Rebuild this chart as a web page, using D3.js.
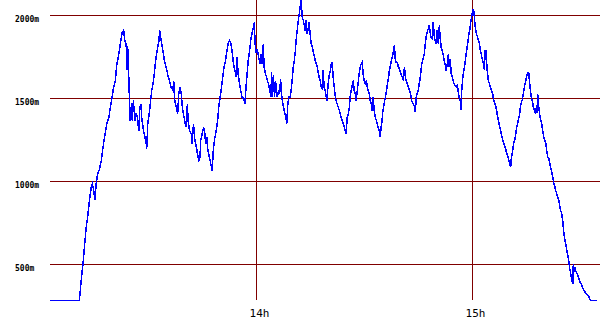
<!DOCTYPE html>
<html>
<head>
<meta charset="utf-8">
<script src="https://cdn.jsdelivr.net/npm/d3@7"></script>
<style>
  html, body { margin: 0; padding: 0; background: #fff; }
  svg { display: block; }
</style>
</head>
<body>
<svg id="chart" width="600" height="330"></svg>
<script>
// Elapsed minutes since 13:00
const minutes = [
  2.5, 10.8, 11.3, 11.8, 12.2, 12.7, 13.1, 13.6, 14.1, 14.4, 14.7, 15.1, 15.5, 15.9, 16.4, 16.9, 17.3, 17.8, 18.4, 19.0,
  19.4, 19.9, 20.3, 20.8, 21.2, 21.6, 21.9, 22.3, 22.7, 23.1, 23.4, 23.8, 24.0, 24.2, 24.4, 24.7, 24.9, 25.3, 25.5, 25.8,
  26.0, 26.3, 26.6, 26.9, 27.3, 27.6, 27.9, 28.1, 28.6, 29.0, 29.4, 29.5, 29.8, 30.2, 30.6, 30.9, 31.4, 31.8, 32.1, 32.5,
  32.9, 33.1, 33.5, 34.0, 34.4, 34.9, 35.4, 35.8, 36.3, 36.8, 37.0, 37.3, 37.7, 38.1, 38.4, 38.8, 39.1, 39.4, 39.7, 40.2,
  40.5, 40.8, 41.0, 41.4, 41.9, 42.1, 42.5, 42.9, 43.3, 43.6, 44.0, 44.3, 44.5, 44.9, 45.3, 45.6, 45.9, 46.2, 46.5, 46.9,
  47.3, 47.7, 48.0, 48.3, 48.8, 49.2, 49.5, 49.9, 50.3, 50.6, 51.0, 51.4, 51.8, 52.1, 52.5, 52.9, 53.3, 53.6, 54.0, 54.4,
  54.6, 54.9, 55.3, 55.6, 56.0, 56.4, 56.8, 56.9, 57.3, 57.7, 58.1, 58.4, 58.8, 59.2, 59.4, 59.6, 59.9, 60.3, 60.6, 61.0,
  61.3, 61.6, 61.9, 62.1, 62.5, 62.9, 63.3, 63.6, 64.0, 64.2, 64.4, 64.7, 65.0, 65.3, 65.6, 65.8, 66.1, 66.4, 66.7, 66.9,
  67.2, 67.5, 67.9, 68.3, 68.4, 68.7, 69.0, 69.4, 69.6, 69.9, 70.2, 70.5, 70.8, 71.0, 71.3, 71.6, 71.9, 72.1, 72.4, 72.7,
  73.0, 73.3, 73.5, 73.8, 74.1, 74.4, 74.6, 74.9, 75.2, 75.5, 75.8, 76.0, 76.3, 76.6, 76.9, 77.1, 77.4, 77.7, 78.0, 78.3,
  78.5, 78.8, 79.1, 79.4, 79.6, 79.9, 80.2, 80.5, 80.8, 81.0, 81.3, 81.6, 81.9, 82.1, 82.4, 82.7, 83.0, 83.3, 83.5, 83.8,
  84.1, 84.4, 84.6, 84.9, 85.2, 85.5, 85.8, 86.0, 86.3, 86.6, 86.9, 87.1, 87.4, 87.7, 88.0, 88.3, 88.5, 88.8, 89.1, 89.4,
  89.6, 89.9, 90.2, 90.5, 90.8, 91.0, 91.3, 91.6, 91.9, 92.1, 92.4, 92.7, 93.0, 93.3, 93.5, 93.8, 94.1, 94.4, 94.6, 94.9,
  95.0, 95.3, 95.6, 95.8, 96.1, 96.4, 96.7, 96.9, 97.2, 97.5, 97.8, 98.1, 98.3, 98.6, 98.9, 99.2, 99.4, 99.7, 100.0, 100.3,
  100.6, 100.8, 101.1, 101.4, 101.7, 101.9, 102.2, 102.5, 102.8, 103.1, 103.3, 103.6, 103.9, 104.1, 104.4, 104.6, 104.9, 105.2, 105.5, 105.8,
  106.0, 106.3, 106.6, 106.9, 107.1, 107.4, 107.7, 108.0, 108.3, 108.5, 108.8, 109.1, 109.4, 109.6, 109.9, 110.2, 110.5, 110.8, 111.0, 111.3,
  111.6, 111.9, 112.1, 112.4, 112.7, 113.0, 113.3, 113.5, 113.8, 114.1, 114.4, 114.6, 114.9, 115.2, 115.5, 115.8, 116.0, 116.3, 116.6, 116.8,
  117.0, 117.3, 117.6, 117.9, 118.1, 118.4, 118.7, 119.0, 119.3, 119.5, 119.8, 120.1, 120.3, 120.6, 120.8, 121.1, 121.4, 121.7, 121.9, 122.2,
  122.5, 122.8, 123.1, 123.3, 123.5, 123.8, 124.0, 124.2, 124.4, 124.7, 125.0, 125.3, 125.6, 125.8, 126.1, 126.4, 126.7, 126.9, 127.2, 127.5,
  127.8, 128.1, 128.3, 128.6, 128.9, 129.2, 129.4, 129.7, 130.0, 130.3, 130.6, 130.8, 131.1, 131.4, 131.7, 131.9, 132.2, 132.5, 132.8, 133.1,
  133.3, 133.6, 133.9, 134.2, 134.4, 134.7, 135.0, 135.3, 135.6, 135.8, 136.1, 136.4, 136.7, 136.9, 137.2, 137.5, 137.8, 137.9, 138.1, 138.4,
  138.7, 139.0, 139.3, 139.5, 139.8, 140.1, 140.4, 140.6, 140.9, 141.2, 141.5, 141.8, 142.0, 142.3, 142.6, 142.9, 143.1, 143.4, 143.7, 144.0,
  144.3, 144.5, 144.8, 145.1, 145.4, 145.6, 145.9, 146.2, 146.5, 146.8, 147.0, 147.3, 147.6, 147.9, 148.0, 148.3, 148.5, 148.8, 149.1, 149.4,
  149.6, 149.9, 150.2, 150.5, 150.8, 151.0, 151.3, 151.6, 151.9, 152.1, 152.4, 152.7, 153.0, 154.6
];
// Altitude in metres
const altitude = [
  283, 283, 404, 504, 604, 725, 785, 886, 966, 986, 958, 886, 996, 1046, 1076, 1126, 1197, 1267, 1348, 1387,
  1448, 1508, 1568, 1608, 1709, 1749, 1789, 1849, 1899, 1910, 1849, 1830, 1669, 1819, 1709, 1508, 1367, 1470, 1367, 1488,
  1428, 1367, 1410, 1386, 1307, 1448, 1468, 1387, 1307, 1267, 1227, 1197, 1348, 1408, 1488, 1548, 1608, 1689, 1749, 1799,
  1849, 1910, 1849, 1789, 1729, 1689, 1639, 1608, 1568, 1548, 1608, 1488, 1448, 1408, 1528, 1568, 1530, 1448, 1408, 1348,
  1327, 1468, 1367, 1307, 1287, 1227, 1348, 1247, 1207, 1167, 1126, 1146, 1247, 1287, 1327, 1297, 1227, 1267, 1187, 1146,
  1107, 1066, 1187, 1247, 1307, 1367, 1448, 1508, 1568, 1628, 1689, 1729, 1789, 1830, 1849, 1830, 1769, 1709, 1669, 1628,
  1749, 1649, 1589, 1548, 1508, 1500, 1468, 1508, 1628, 1729, 1789, 1849, 1899, 1930, 1960, 1830, 1779, 1789, 1749, 1709,
  1769, 1709, 1830, 1689, 1649, 1619, 1589, 1560, 1508, 1658, 1508, 1639, 1508, 1608, 1528, 1508, 1548, 1528, 1619, 1528,
  1488, 1448, 1408, 1367, 1348, 1468, 1508, 1508, 1548, 1608, 1689, 1729, 1789, 1849, 1910, 1970, 2010, 2050, 2090, 1990,
  1970, 1940, 1910, 1970, 1890, 1930, 1960, 1890, 1830, 1809, 1779, 1759, 1729, 1709, 1689, 1658, 1628, 1608, 1568, 1558,
  1669, 1568, 1548, 1508, 1488, 1589, 1639, 1669, 1709, 1719, 1628, 1568, 1508, 1488, 1468, 1448, 1428, 1408, 1387, 1367,
  1348, 1327, 1307, 1287, 1387, 1408, 1448, 1508, 1548, 1578, 1608, 1548, 1530, 1488, 1548, 1608, 1649, 1689, 1709, 1719,
  1649, 1608, 1589, 1608, 1568, 1548, 1530, 1488, 1468, 1428, 1508, 1428, 1387, 1367, 1348, 1327, 1307, 1267, 1327, 1367,
  1408, 1448, 1488, 1508, 1548, 1589, 1628, 1669, 1699, 1729, 1759, 1789, 1819, 1719, 1719, 1709, 1689, 1681, 1658, 1639,
  1626, 1608, 1689, 1619, 1598, 1590, 1568, 1548, 1528, 1488, 1478, 1468, 1448, 1417, 1518, 1528, 1548, 1589, 1628, 1689,
  1719, 1739, 1769, 1830, 1869, 1899, 1920, 1940, 1890, 1869, 1861, 1960, 1869, 1849, 1830, 1910, 1830, 1940, 1869, 1809,
  1789, 1759, 1729, 1709, 1669, 1709, 1769, 1689, 1739, 1649, 1628, 1608, 1589, 1578, 1568, 1578, 1548, 1508, 1488, 1428,
  1548, 1628, 1669, 1709, 1749, 1789, 1839, 1890, 1920, 1960, 2000, 2030, 2040, 1970, 1920, 1890, 1869, 1849, 1830, 1789,
  1759, 1729, 1709, 1669, 1789, 1789, 1689, 1649, 1608, 1589, 1568, 1548, 1528, 1498, 1478, 1458, 1428, 1398, 1367, 1337,
  1307, 1277, 1257, 1237, 1217, 1197, 1176, 1157, 1137, 1107, 1086, 1146, 1176, 1227, 1247, 1267, 1317, 1348, 1378, 1408,
  1448, 1478, 1498, 1538, 1568, 1598, 1628, 1658, 1658, 1608, 1548, 1498, 1478, 1448, 1428, 1408, 1458, 1410, 1528, 1448,
  1398, 1367, 1337, 1307, 1267, 1247, 1227, 1187, 1146, 1137, 1107, 1076, 1056, 1026, 986, 966, 946, 926, 905, 886,
  845, 825, 805, 755, 685, 655, 625, 584, 554, 514, 474, 444, 404, 384, 504, 464, 476, 454, 444, 423,
  414, 393, 384, 363, 354, 343, 333, 323, 319, 313, 303, 287, 283, 283
];
const yTicks = [500, 1000, 1500, 2000];
const yTickLabels = ["500m", "1000m", "1500m", "2000m"];
const xTicks = [60, 120];
const xTickLabels = ["14h", "15h"];

const svg = d3.select("#chart");
const gridColor = "#800000";
const left = 50, right = 600, bottom = 300;

const x = d3.scaleLinear().domain([60, 120]).range([256.5, 472.5]);
const y = d3.scaleLinear().domain([500, 2000]).range([264.5, 15.5]);

// horizontal grid lines
svg.append("g").selectAll("line").data(yTicks).join("line")
  .attr("x1", left).attr("x2", right)
  .attr("y1", d => y(d)).attr("y2", d => y(d))
  .attr("stroke", gridColor).attr("stroke-width", 1)
  .attr("shape-rendering", "crispEdges");

// vertical grid lines
svg.append("g").selectAll("line").data(xTicks).join("line")
  .attr("x1", d => x(d)).attr("x2", d => x(d))
  .attr("y1", 0).attr("y2", bottom)
  .attr("stroke", gridColor).attr("stroke-width", 1)
  .attr("shape-rendering", "crispEdges");

// y labels
svg.append("g").selectAll("text").data(yTicks).join("text")
  .attr("x", 15).attr("y", d => y(d) + 6.5)
  .attr("font-family", "'DejaVu Sans Mono', monospace")
  .attr("font-weight", "bold")
  .attr("font-size", "8px")
  .attr("fill", "#000")
  .text((d, i) => yTickLabels[i]);

// x labels
svg.append("g").selectAll("text").data(xTicks).join("text")
  .attr("x", d => x(d) + 3).attr("y", 317)
  .attr("text-anchor", "middle")
  .attr("font-family", "'DejaVu Sans Mono', monospace")
  .attr("font-size", "11px")
  .attr("fill", "#000")
  .text((d, i) => xTickLabels[i]);

// altitude line
const pts = minutes.map((m, i) => [m, altitude[i]]);
const line = d3.line().x(d => x(d[0])).y(d => y(d[1]));
svg.append("path")
  .datum(pts)
  .attr("d", line)
  .attr("fill", "none")
  .attr("stroke", "#0000ff")
  .attr("stroke-width", 1.5)
  .attr("shape-rendering", "crispEdges");
</script>
</body>
</html>
